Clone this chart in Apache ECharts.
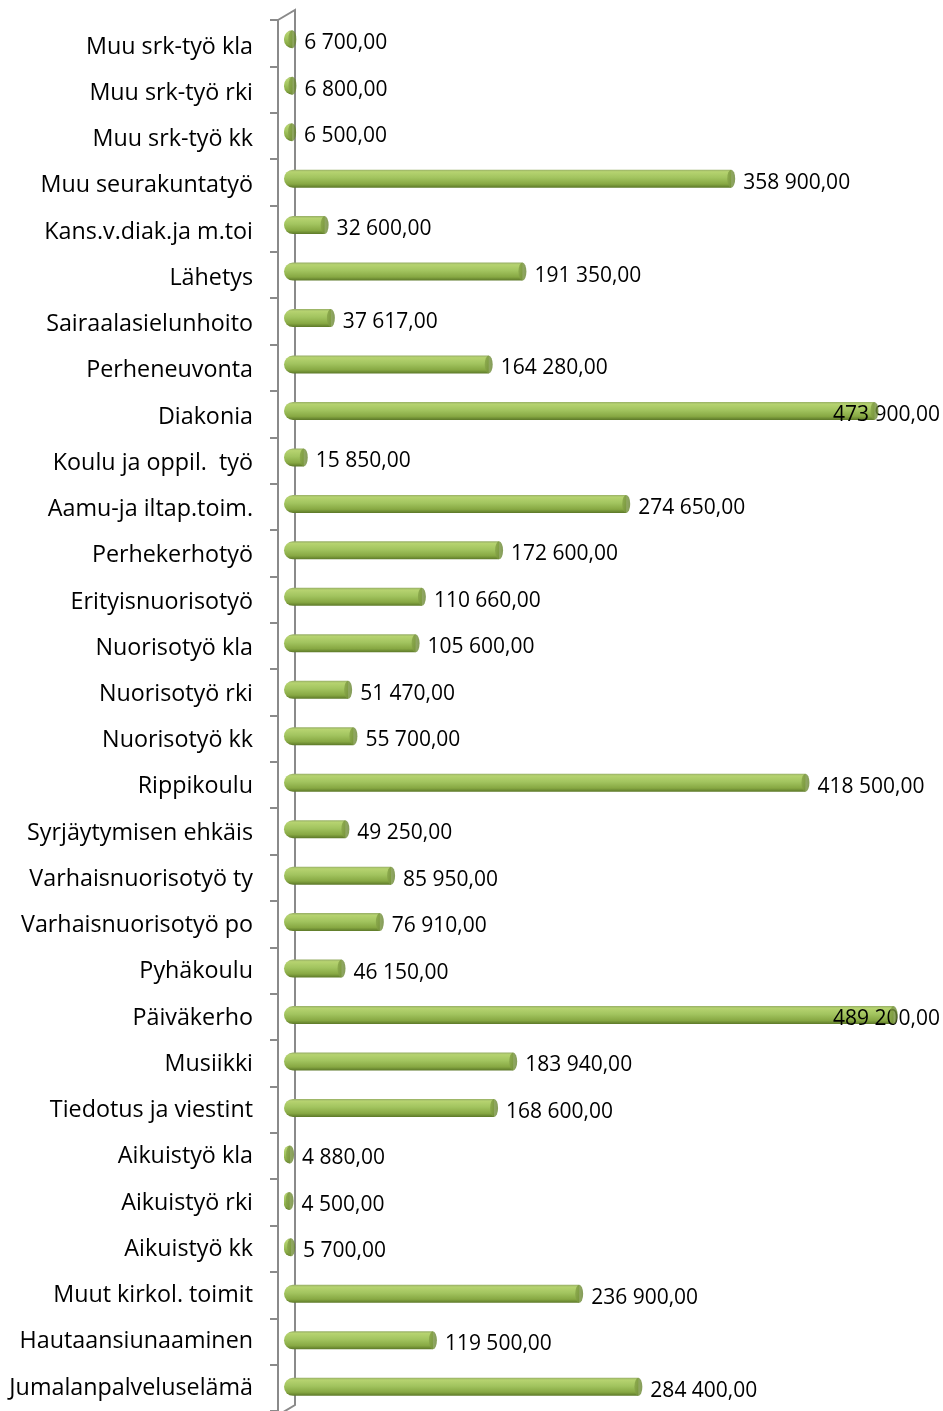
<!DOCTYPE html>
<html lang="fi">
  <head>
    <meta charset="UTF-8" />
    <title>Kustannukset</title>
    <style>
      html, body { margin: 0; padding: 0; background: #fff; }
      #chart { width: 943px; height: 1411px; }
    </style>
  </head>
  <body>
    <div id="chart"></div>
    <script src="https://cdn.jsdelivr.net/npm/echarts@6/dist/echarts.min.js"></script>
    <script>
      // categories top -> bottom
      var categories = [
        'Muu srk-työ kla', 'Muu srk-työ rki', 'Muu srk-työ kk', 'Muu seurakuntatyö',
        'Kans.v.diak.ja m.toi', 'Lähetys', 'Sairaalasielunhoito', 'Perheneuvonta',
        'Diakonia', 'Koulu ja oppil.  työ', 'Aamu-ja iltap.toim.', 'Perhekerhotyö',
        'Erityisnuorisotyö', 'Nuorisotyö kla', 'Nuorisotyö rki', 'Nuorisotyö kk',
        'Rippikoulu', 'Syrjäytymisen ehkäis', 'Varhaisnuorisotyö ty', 'Varhaisnuorisotyö po',
        'Pyhäkoulu', 'Päiväkerho', 'Musiikki', 'Tiedotus ja viestint',
        'Aikuistyö kla', 'Aikuistyö rki', 'Aikuistyö kk', 'Muut kirkol. toimit',
        'Hautaansiunaaminen', 'Jumalanpalveluselämä'
      ];
      var values = [
        6700, 6800, 6500, 358900,
        32600, 191350, 37617, 164280,
        473900, 15850, 274650, 172600,
        110660, 105600, 51470, 55700,
        418500, 49250, 85950, 76910,
        46150, 489200, 183940, 168600,
        4880, 4500, 5700, 236900,
        119500, 284400
      ];

      function fmt(v) {
        var s = String(Math.round(v)).replace(/\B(?=(\d{3})+(?!\d))/g, ' ');
        return s + ',00';
      }

      var myChart = echarts.init(document.getElementById('chart'));

      var barColor = new echarts.graphic.LinearGradient(0, 0, 0, 1, [
        { offset: 0, color: '#97ae66' },
        { offset: 0.12, color: '#b6d370' },
        { offset: 0.45, color: '#a2c45f' },
        { offset: 0.8, color: '#87a843' },
        { offset: 1, color: '#5c7828' }
      ]);
      var capColor = new echarts.graphic.LinearGradient(0, 0, 1, 0, [
        { offset: 0, color: '#86a348' },
        { offset: 1, color: '#66832f' }
      ]);

      var option = {
        animation: false,
        textStyle: { fontFamily: 'Open Sans' },
        grid: [
          // front axis line + ticks
          { left: 278, right: 36, top: 20, bottom: -3 },
          // bars (drawn on the back plane, a bit higher)
          { left: 284, right: 36, top: 16, bottom: 1 },
          // category labels
          { left: 278, right: 36, top: 24, bottom: -7 }
        ],
        xAxis: [
          { gridIndex: 0, type: 'value', min: 0, max: 500000, show: false },
          { gridIndex: 1, type: 'value', min: 0, max: 500000, show: false },
          { gridIndex: 2, type: 'value', min: 0, max: 500000, show: false }
        ],
        yAxis: [
          {
            gridIndex: 0,
            type: 'category',
            inverse: true,
            data: categories,
            axisLine: { show: true, onZero: false, lineStyle: { color: '#8a8a8a', width: 2 } },
            axisTick: { show: true, length: 8, lineStyle: { color: '#8a8a8a', width: 2 } },
            axisLabel: { show: false }
          },
          {
            gridIndex: 1,
            type: 'category',
            inverse: true,
            data: categories,
            show: false
          },
          {
            gridIndex: 2,
            type: 'category',
            inverse: true,
            data: categories,
            axisLine: { show: false },
            axisTick: { show: false },
            axisLabel: {
              margin: 25,
              color: '#000',
              fontSize: 23.3,
              fontFamily: 'Open Sans'
            }
          }
        ],
        graphic: [
          {
            type: 'polyline',
            z: 0,
            shape: { points: [[278, 20], [295, 10], [295, 1405], [280, 1414]] },
            style: { stroke: '#8a8a8a', lineWidth: 2, fill: null }
          }
        ],
        series: [
          {
            type: 'bar',
            xAxisIndex: 1,
            yAxisIndex: 1,
            data: values,
            barWidth: 18,
            barGap: '-100%',
            z: 3,
            itemStyle: {
              color: barColor,
              borderRadius: [9, 0, 0, 9]
            },
            label: {
              show: true,
              position: 'right',
              distance: 12,
              color: '#000',
              fontSize: 21,
              fontFamily: 'Open Sans',
              formatter: function (p) { return fmt(p.value); }
            },
            labelLayout: function (p) {
              var r = p.labelRect;
              var x = Math.min(r.x, 940 - r.width);
              return { x: x, y: r.y + r.height / 2 + 4, align: 'left', verticalAlign: 'middle' };
            }
          },
          {
            type: 'scatter',
            xAxisIndex: 1,
            yAxisIndex: 1,
            data: values.map(function (v, i) { return [v, i]; }),
            symbol: 'circle',
            symbolSize: [8, 18],
            z: 4,
            silent: true,
            itemStyle: { color: capColor }
          }
        ]
      };

      myChart.setOption(option);
    </script>
  </body>
</html>
